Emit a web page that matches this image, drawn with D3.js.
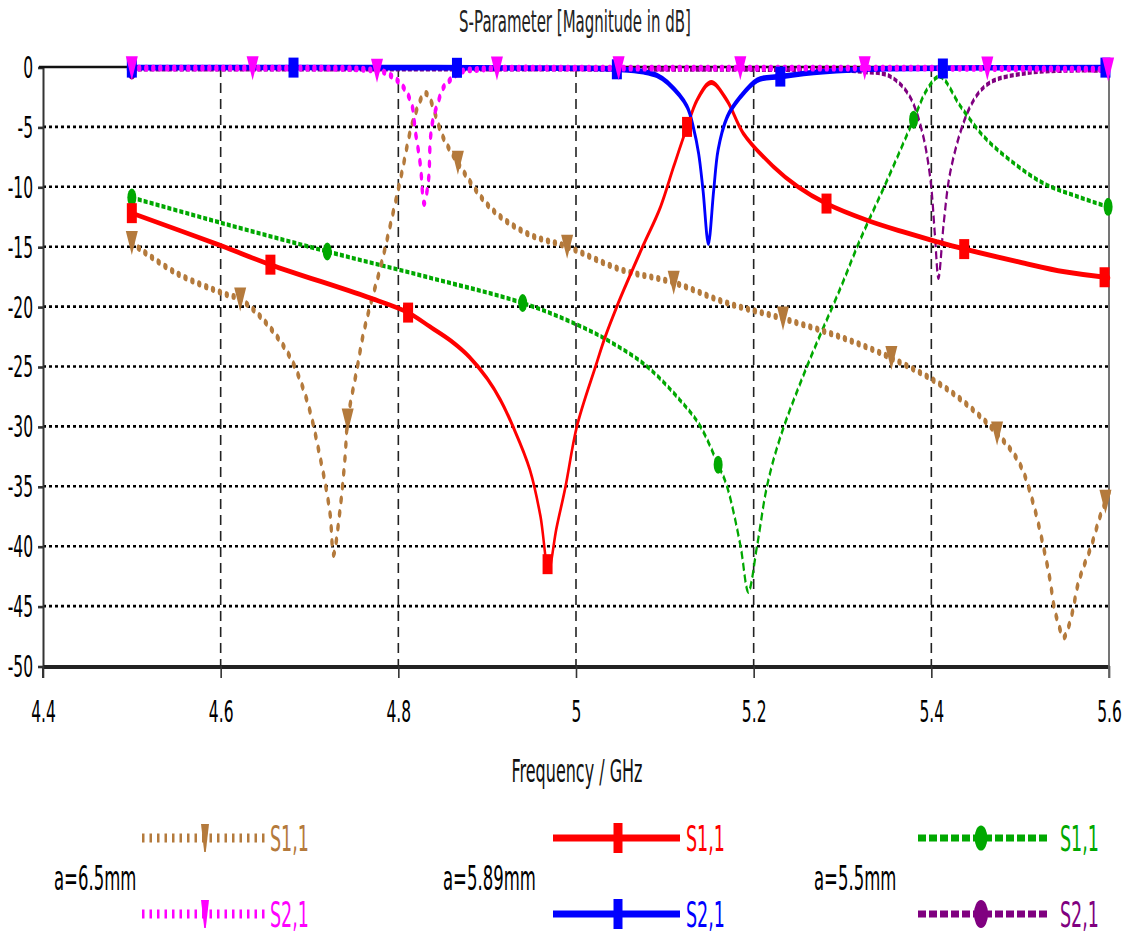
<!DOCTYPE html>
<html>
<head>
<meta charset="utf-8">
<script src="https://cdn.jsdelivr.net/npm/d3@7"></script>
<style>
  body { margin: 0; background: #fff; }
  text { font-family: "DejaVu Sans", sans-serif; }
</style>
</head>
<body>
<script>
//////////////////////////////////////////////////////////////////////////////
// Data (frequency in GHz, magnitude in dB)
//////////////////////////////////////////////////////////////////////////////
let xTicks = [4.4, 4.6, 4.8, 5.0, 5.2, 5.4, 5.6]
let xTickLabels = ['4.4', '4.6', '4.8', '5', '5.2', '5.4', '5.6']
let yTicks = [0, -5, -10, -15, -20, -25, -30, -35, -40, -45, -50]
let yTickLabels = ['0', '-5', '-10', '-15', '-20', '-25', '-30', '-35', '-40', '-45', '-50']

// a=6.5mm S1,1
let f_s11_65 = [4.5, 4.55, 4.603, 4.622, 4.648, 4.678, 4.697, 4.712, 4.723, 4.727, 4.734, 4.74, 4.743, 4.754, 4.76, 4.768, 4.78, 4.794, 4.804, 4.817, 4.831, 4.85, 4.867, 4.903, 4.945, 4.99, 5.05, 5.11, 5.17, 5.233, 5.3, 5.355, 5.42, 5.474, 5.5, 5.515, 5.53, 5.534, 5.538, 5.542, 5.549, 5.555, 5.56, 5.564, 5.57, 5.58, 5.59, 5.6]
let db_s11_65 = [-14.7, -17.2, -18.9, -19.4, -21.1, -24.2, -27.8, -32.6, -37.2, -40.7, -37.2, -32.6, -29.5, -25, -22.5, -20, -16.7, -12.2, -8.8, -4.4, -2.2, -5.8, -8.0, -11.7, -13.9, -15.0, -16.9, -18.0, -19.7, -21.0, -22.6, -24.3, -27.0, -30.6, -33.2, -36.5, -41.4, -43, -45, -46.2, -47.6, -46.6, -45.1, -43.5, -42, -40, -37.5, -35.5]
let m_s11_65 = [4.5, 4.622, 4.743, 4.867, 4.99, 5.11, 5.233, 5.355, 5.474, 5.596]

// a=6.5mm S2,1
let f_s21_65 = [4.5, 4.6, 4.7, 4.75, 4.77, 4.783, 4.8, 4.81, 4.816, 4.819, 4.822, 4.825, 4.829, 4.834, 4.836, 4.839, 4.845, 4.85, 4.858, 4.87, 4.89, 4.92, 5.0, 5.2, 5.4, 5.6]
let db_s21_65 = [-0.1, -0.1, -0.1, -0.15, -0.25, -0.4, -1.2, -2.2, -3.4, -5.3, -6.7, -8.3, -11.4, -9.4, -6.1, -4.4, -2.9, -1.8, -1.1, -0.4, -0.2, -0.1, -0.1, -0.1, -0.1, -0.2]
let m_s21_65 = [4.5, 4.636, 4.776, 4.911, 5.048, 5.185, 5.325, 5.463, 5.599]

// a=5.89mm S1,1
let f_s11_589 = [4.5, 4.6, 4.656, 4.765, 4.811, 4.836, 4.86, 4.88, 4.9, 4.915, 4.929, 4.948, 4.96, 4.969, 4.978, 4.988, 5.001, 5.022, 5.033, 5.046, 5.055, 5.075, 5.095, 5.11, 5.125, 5.136, 5.152, 5.17, 5.188, 5.222, 5.25, 5.282, 5.328, 5.37, 5.407, 5.437, 5.5, 5.55, 5.6]
let db_s11_589 = [-12.2, -14.9, -16.5, -19.2, -20.5, -21.7, -22.9, -24.2, -26, -27.8, -30, -33.6, -37.5, -42, -38.5, -35.1, -30, -25, -22.5, -20, -18.4, -15, -11.7, -8.3, -5, -2.8, -1.3, -2.8, -5.5, -8.3, -10, -11.4, -12.8, -13.8, -14.6, -15.2, -16.3, -17.1, -17.6]
let m_s11_589 = [4.5, 4.656, 4.811, 4.968, 5.125, 5.282, 5.437, 5.595]

// a=5.89mm S2,1
let f_s21_589 = [4.5, 4.8, 5.0, 5.05, 5.076, 5.091, 5.103, 5.125, 5.132, 5.138, 5.143, 5.149, 5.155, 5.16, 5.17, 5.185, 5.204, 5.23, 5.278, 5.35, 5.6]
let db_s21_589 = [-0.05, -0.05, -0.1, -0.2, -0.4, -0.7, -1.3, -3.3, -5, -7.2, -10.3, -14.7, -10.3, -6.9, -4.2, -2.5, -1.1, -0.8, -0.4, -0.15, -0.05]
let m_s21_589 = [4.5, 4.682, 4.866, 5.046, 5.23, 5.413, 5.596]

// a=5.5mm S1,1
let f_s11_55 = [4.5, 4.6, 4.72, 4.836, 4.94, 5.001, 5.04, 5.08, 5.117, 5.14, 5.16, 5.17, 5.185, 5.194, 5.204, 5.215, 5.23, 5.26, 5.298, 5.32, 5.35, 5.38, 5.395, 5.41, 5.433, 5.459, 5.489, 5.526, 5.564, 5.6]
let db_s11_55 = [-10.9, -13, -15.4, -17.6, -19.7, -21.5, -23, -25, -27.8, -30, -33.2, -35, -39.9, -43.8, -39.9, -35, -30.9, -25, -18.4, -14.4, -9.5, -4.4, -1.9, -0.8, -3.3, -5.8, -7.8, -9.7, -10.8, -11.7]
let m_s11_55 = [4.5, 4.72, 4.94, 5.16, 5.38, 5.599]

// a=5.5mm S2,1 (its markers sit under the other traces at 0 dB)
let f_s21_55 = [4.5, 5.0, 5.3, 5.323, 5.354, 5.376, 5.39, 5.399, 5.404, 5.408, 5.414, 5.421, 5.436, 5.45, 5.466, 5.508, 5.55, 5.6]
let db_s21_55 = [-0.2, -0.2, -0.3, -0.4, -0.8, -2.5, -5.5, -9.4, -14, -17.6, -13, -8.9, -4.7, -2.5, -1.3, -0.5, -0.3, -0.3]
let m_s21_55 = [4.5]

//////////////////////////////////////////////////////////////////////////////
// Layout. The original screenshot is stretched 2x vertically, so everything
// is drawn in a half-height space and the root group is scaled (1, 2).
//////////////////////////////////////////////////////////////////////////////
let width = 1133
let height = 935
let plotLeft = 43
let plotRight = 1109
let plotTop = 33.5
let plotBottom = 333

let svg = d3
  .select('body')
  .append('svg')
  .attr('width', width)
  .attr('height', height)
let g = svg.append('g').attr('transform', 'scale(1,2)')

let x = d3.scaleLinear().domain([4.4, 5.6]).range([plotLeft, plotRight])
let y = d3.scaleLinear().domain([0, -50]).range([plotTop, plotBottom])

let brown = '#B47A3C'
let series = [
  { f: f_s21_55, v: db_s21_55, m: m_s21_55, color: '#800080', dash: '4,2', cap: 'butt', w: 2.2, shape: 'dia' },
  { f: f_s11_55, v: db_s11_55, m: m_s11_55, color: '#00A800', dash: '4,2', cap: 'butt', w: 2.2, shape: 'dot' },
  { f: f_s11_65, v: db_s11_65, m: m_s11_65, color: brown, dash: '1,6', cap: 'round', w: 3.4, shape: 'tri' },
  { f: f_s11_589, v: db_s11_589, m: m_s11_589, color: '#FF0000', dash: null, cap: 'round', w: 2.5, shape: 'sq' },
  { f: f_s21_589, v: db_s21_589, m: m_s21_589, color: '#0000FF', dash: null, cap: 'round', w: 2.8, shape: 'sq' },
  { f: f_s21_65, v: db_s21_65, m: m_s21_65, color: '#FF00FF', dash: '1,6', cap: 'round', w: 3.4, shape: 'tri' }
]

// grid lines
g.selectAll('.hgrid')
  .data(yTicks.slice(1, -1))
  .join('line')
  .attr('class', 'hgrid')
  .attr('x1', plotLeft)
  .attr('x2', plotRight)
  .attr('y1', d => y(d))
  .attr('y2', d => y(d))
  .attr('stroke', '#000')
  .attr('stroke-width', 1.3)
  .attr('stroke-dasharray', '3,3')
g.selectAll('.vgrid')
  .data(xTicks.slice(1, -1))
  .join('line')
  .attr('class', 'vgrid')
  .attr('x1', d => x(d))
  .attr('x2', d => x(d))
  .attr('y1', plotTop)
  .attr('y2', plotBottom)
  .attr('stroke', '#222')
  .attr('stroke-width', 1.6)
  .attr('stroke-dasharray', '5,3')

// axes
let yAxis = d3
  .axisLeft(y)
  .tickValues(yTicks)
  .tickFormat((d, i) => yTickLabels[i])
  .tickSize(5)
  .tickSizeOuter(0)
  .tickPadding(5)
let xAxis = d3
  .axisBottom(x)
  .tickValues(xTicks)
  .tickFormat((d, i) => xTickLabels[i])
  .tickSize(6)
  .tickSizeOuter(0)
  .tickPadding(11)

let gy = g.append('g').attr('transform', `translate(${plotLeft},0)`).call(yAxis)
let gx = g.append('g').attr('transform', `translate(0,${plotBottom})`).call(xAxis)
gy.select('.domain').attr('stroke', '#333').attr('stroke-width', 2)
gx.select('.domain').attr('stroke', '#222').attr('stroke-width', 2)
gy.selectAll('.tick line').attr('stroke', '#333').attr('stroke-width', 1.3)
gx.selectAll('.tick line').attr('stroke', '#333').attr('stroke-width', 1.6)
gy.selectAll('.tick text').attr('font-size', 15.5).attr('font-family', 'DejaVu Sans').attr('fill', '#000')
gx.selectAll('.tick text').attr('font-size', 15.5).attr('font-family', 'DejaVu Sans').attr('fill', '#000')
// left axis runs down into the tick area like the x ticks
g.append('line')
  .attr('x1', plotLeft).attr('x2', plotLeft)
  .attr('y1', plotBottom).attr('y2', plotBottom + 6)
  .attr('stroke', '#333').attr('stroke-width', 2)

// top (0 dB) and right border
g.append('line')
  .attr('x1', plotLeft - 4).attr('x2', plotRight)
  .attr('y1', plotTop).attr('y2', plotTop)
  .attr('stroke', '#111').attr('stroke-width', 1.3)
g.append('line')
  .attr('x1', plotRight).attr('x2', plotRight)
  .attr('y1', plotTop).attr('y2', plotBottom + 6)
  .attr('stroke', '#666').attr('stroke-width', 1.8)

// curves
let line = d3
  .line()
  .curve(d3.curveCatmullRom.alpha(0.5))
  .x(d => x(d[0]))
  .y(d => y(d[1]))

series.forEach(s => {
  g.append('path')
    .datum(d3.zip(s.f, s.v))
    .attr('d', line)
    .attr('fill', 'none')
    .attr('stroke', s.color)
    .attr('stroke-width', s.w)
    .attr('stroke-linejoin', 'round')
    .attr('stroke-linecap', s.cap)
    .attr('stroke-dasharray', s.dash)
})

// linear lookup of a curve value at a marker frequency
function valueAt (fs, vs, f) {
  let i = d3.bisectLeft(fs, f)
  if (i <= 0) return vs[0]
  if (i >= fs.length) return vs[vs.length - 1]
  let t = (f - fs[i - 1]) / (fs[i] - fs[i - 1])
  return vs[i - 1] + t * (vs[i] - vs[i - 1])
}

function shapePath (shape, k) {
  if (shape === 'tri') return `M${-6 * k},${-6 * k}L${6 * k},${-6 * k}L0,${6 * k}Z`
  if (shape === 'sq') return `M${-5 * k},${-5 * k}h${10 * k}v${10 * k}h${-10 * k}Z`
  let r = shape === 'dot' ? 4.5 * k : 5 * k
  return `M${-r},0A${r},${r} 0 1,1 ${r},0A${r},${r} 0 1,1 ${-r},0Z`
}

series.forEach(s => {
  g.selectAll(null)
    .data(s.m)
    .join('path')
    .attr('d', shapePath(s.shape, 1))
    .attr('transform', d => `translate(${x(d)},${y(valueAt(s.f, s.v, d))})`)
    .attr('fill', s.color)
})

// titles
g.append('text')
  .attr('x', 575)
  .attr('y', 16)
  .attr('text-anchor', 'middle')
  .attr('font-size', 15)
  .attr('fill', '#222')
  .text('S-Parameter [Magnitude in dB]')
g.append('text')
  .attr('x', 577)
  .attr('y', 391)
  .attr('text-anchor', 'middle')
  .attr('font-size', 16)
  .attr('fill', '#111')
  .text('Frequency / GHz')

//////////////////////////////////////////////////////////////////////////////
// Legend
//////////////////////////////////////////////////////////////////////////////
let legendGroups = [
  { label: 'a=6.5mm', lx: 54, x1: 142, x2: 266, mx: 205, tx: 270, items: [series[2], series[5]], names: ['S1,1', 'S2,1'] },
  { label: 'a=5.89mm', lx: 443, x1: 553, x2: 680, mx: 618, tx: 686, items: [series[3], series[4]], names: ['S1,1', 'S2,1'] },
  { label: 'a=5.5mm', lx: 814, x1: 918, x2: 1049, mx: 981, tx: 1060, items: [series[1], series[0]], names: ['S1,1', 'S2,1'] }
]
let rowY = [419, 457]

legendGroups.forEach(lg => {
  g.append('text')
    .attr('x', lg.lx)
    .attr('y', 439)
    .attr('dy', '0.36em')
    .attr('font-size', 16.5)
    .attr('fill', '#000')
    .text(lg.label)
  lg.items.forEach((s, i) => {
    let ly = rowY[i]
    let dash = s.dash === '1,6' ? '2.5,5' : s.dash ? '8,3' : null
    g.append('line')
      .attr('x1', lg.x1).attr('x2', lg.x2)
      .attr('y1', ly).attr('y2', ly)
      .attr('stroke', s.color)
      .attr('stroke-width', s.dash === '1,6' ? 4.5 : 3.5)
      .attr('stroke-dasharray', dash)
    let mk
    if (s.shape === 'sq') mk = 'M-4.5,-7.5h9v15h-9Z'
    else if (s.shape === 'tri') mk = 'M-4,-7L4,-7L0.8,7L-0.8,7Z'
    else mk = shapePath(s.shape, 1.4)
    g.append('path')
      .attr('d', mk)
      .attr('transform', `translate(${lg.mx},${ly})`)
      .attr('fill', s.color)
    g.append('text')
      .attr('x', lg.tx)
      .attr('y', ly)
      .attr('dy', '0.36em')
      .attr('font-size', 17.5)
      .attr('fill', s.color)
      .text(lg.names[i])
  })
})
</script>
</body>
</html>
